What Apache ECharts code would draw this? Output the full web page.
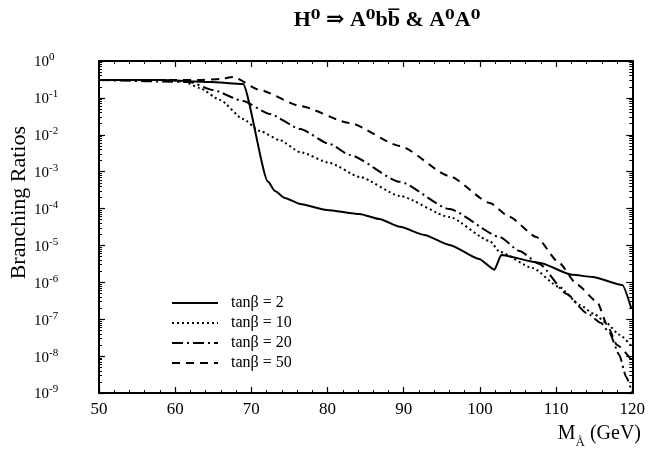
<!DOCTYPE html>
<html>
<head>
<meta charset="utf-8">
<script src="https://cdn.jsdelivr.net/npm/echarts@6/dist/echarts.min.js"></script>
<style>html,body{margin:0;padding:0;background:#fff}#c{width:648px;height:449px}</style>
</head>
<body>
<div id="c"></div>
<script>
// ---- data ----
const titleText = 'H\u2070 \u21D2 A\u2070bb\u0305 & A\u2070A\u2070';
const seriesNames = ['tan\u03B2 = 2', 'tan\u03B2 = 10', 'tan\u03B2 = 20', 'tan\u03B2 = 50'];
const xTicks = [50, 60, 70, 80, 90, 100, 110, 120];
const yTickExponents = [0, -1, -2, -3, -4, -5, -6, -7, -8, -9];

const mTan2 = [50, 58.0, 64.6, 68.9, 72.2, 73.1, 74.4, 76.4, 79.9, 84.2, 86.8, 89.5, 92.7, 96.0, 99.9, 101.9, 102.8, 107.8, 112.1, 114.8, 118.7, 119.9];
const brTan2 = [0.305, 0.305, 0.27, 0.238, 5.3e-4, 3.0e-4, 1.94e-4, 1.33e-4, 9.2e-5, 7.1e-5, 5.2e-5, 3.2e-5, 1.93e-5, 1.03e-5, 4.3e-6, 2.2e-6, 5.5e-6, 3.4e-6, 1.6e-6, 1.4e-6, 8.5e-7, 1.9e-7];

const mTan10 = [50, 59.3, 61.3, 63.2, 65.9, 68.9, 71.1, 73.7, 76.4, 80.3, 84.2, 89.5, 96.0, 101.3, 102.6, 106.9, 110.4, 113.1, 115.0, 116.6, 118.3, 120];
const brTan10 = [0.305, 0.305, 0.27, 0.185, 0.0877, 0.0268, 0.0127, 7.2e-3, 3.4e-3, 1.72e-3, 7.2e-4, 2.2e-4, 5.9e-5, 1.32e-5, 6.7e-6, 2.45e-6, 7.5e-7, 2.44e-7, 1.39e-7, 7.9e-8, 3.8e-8, 1.77e-8];

const mTan20 = [50, 61.9, 64.9, 68.9, 72.4, 76.4, 80.3, 82.9, 89.5, 96.0, 102.6, 105.2, 107.8, 111.4, 114.0, 115.9, 117.0, 118.3, 119.2, 120];
const brTan20 = [0.305, 0.27, 0.164, 0.0824, 0.0366, 0.0144, 5.6e-3, 2.84e-3, 5.3e-4, 9.7e-5, 1.7e-5, 7.1e-6, 3.15e-6, 4.85e-7, 1.48e-7, 7.9e-8, 4.25e-8, 1.08e-8, 2.73e-9, 1.0e-9];

const mTan50 = [50, 63.2, 65.9, 67.6, 71.1, 76.4, 82.9, 89.5, 96.0, 101.3, 103.9, 107.4, 110.4, 112.8, 115.4, 116.7, 118.0, 119.9];
const brTan50 = [0.305, 0.305, 0.325, 0.368, 0.164, 0.0603, 0.0209, 4.97e-3, 7.6e-4, 1.42e-4, 5.9e-5, 1.7e-5, 3.36e-6, 8.5e-7, 2.94e-7, 7.0e-8, 2.0e-8, 7.9e-9];

// ---- chart ----
const serif = '"Liberation Serif", "DejaVu Serif", serif';
const pairs = (xs, ys) => xs.map((x, i) => [x, ys[i]]);
const lineStyles = [
  {type: 'solid', width: 2},
  {type: [2, 3], width: 2},
  {type: [11, 4, 2, 4], width: 2},
  {type: [8, 6], width: 2}
];
const datasets = [pairs(mTan2, brTan2), pairs(mTan10, brTan10), pairs(mTan20, brTan20), pairs(mTan50, brTan50)];

const xCommon = {
  type: 'value', min: xTicks[0], max: xTicks[xTicks.length - 1], interval: 10,
  axisLine: {show: true, lineStyle: {color: '#000', width: 2}},
  axisTick: {show: true, inside: true, length: 6, lineStyle: {color: '#000', width: 1.2}},
  minorTick: {show: true, splitNumber: 5, length: 3, lineStyle: {color: '#000', width: 1}},
  splitLine: {show: false}
};
const yCommon = {
  type: 'log', logBase: 10, min: 1e-9, max: 1,
  axisLine: {show: true, lineStyle: {color: '#000', width: 2}},
  axisTick: {show: true, inside: true, length: 6, lineStyle: {color: '#000', width: 1.2}},
  minorTick: {show: true, splitNumber: 9, length: 3, lineStyle: {color: '#000', width: 1}},
  splitLine: {show: false}
};

const chart = echarts.init(document.getElementById('c'));
chart.setOption({
  backgroundColor: '#fff',
  animation: false,
  title: {
    text: titleText, left: 382, top: 4, textAlign: 'center',
    textStyle: {fontFamily: serif, fontSize: 22, fontWeight: 'bold', color: '#000'}
  },
  grid: {left: 99, right: 15, top: 61, bottom: 56},
  legend: {
    show: true,
    data: seriesNames, orient: 'vertical', left: 166, top: 290, itemGap: 4,
    itemWidth: 46, itemHeight: 16,
    itemStyle: {opacity: 0, color: 'rgba(0,0,0,0)', borderWidth: 0},
    formatter: n => '  ' + n,
    textStyle: {fontFamily: serif, fontSize: 16, color: '#000'},
    selectedMode: false
  },
  xAxis: [
    Object.assign({}, xCommon, {
      position: 'bottom',
      axisLabel: {show: true, margin: 8, fontFamily: serif, fontSize: 17, color: '#000',
        formatter: v => (xTicks.indexOf(v) >= 0 ? String(v) : '')}
    }),
    Object.assign({}, xCommon, {position: 'top', axisLabel: {show: false}})
  ],
  yAxis: [
    Object.assign({}, yCommon, {
      position: 'left',
      axisLabel: {
        show: true, align: 'left', margin: 65, color: '#000',
        formatter: v => {
          const e = Math.round(Math.log10(v));
          return yTickExponents.indexOf(e) >= 0 ? '{b|10}{s|' + e + '}' : '';
        },
        rich: {
          b: {fontFamily: serif, fontSize: 15, color: '#000', lineHeight: 18, verticalAlign: 'bottom'},
          s: {fontFamily: serif, fontSize: 11, color: '#000', lineHeight: 18, verticalAlign: 'top'}
        }
      }
    }),
    Object.assign({}, yCommon, {position: 'right', axisLabel: {show: false}})
  ],
  graphic: [
    {type: 'text', left: 8, top: 126, rotation: Math.PI / 2,
      style: {text: 'Branching Ratios', font: '22px ' + serif, fill: '#000'}},
    {type: 'text', right: 7, top: 424,
      style: {
        text: '{m|M}{a|\u00C5}{m| (GeV)}',
        rich: {
          m: {fontFamily: serif, fontSize: 20, fill: '#000', lineHeight: 25, verticalAlign: 'top'},
          a: {fontFamily: serif, fontSize: 13, fill: '#000', lineHeight: 25, verticalAlign: 'bottom'}
        }
      }}
  ],
  series: seriesNames.map((name, i) => ({
    name, type: 'line', xAxisIndex: 0, yAxisIndex: 0,
    data: datasets[i], symbol: 'none', showSymbol: false,
    smooth: 0.2, smoothMonotone: 'x',
    lineStyle: Object.assign({color: '#000'}, lineStyles[i]),
    itemStyle: {color: '#000'}
  }))
});
</script>
</body>
</html>
